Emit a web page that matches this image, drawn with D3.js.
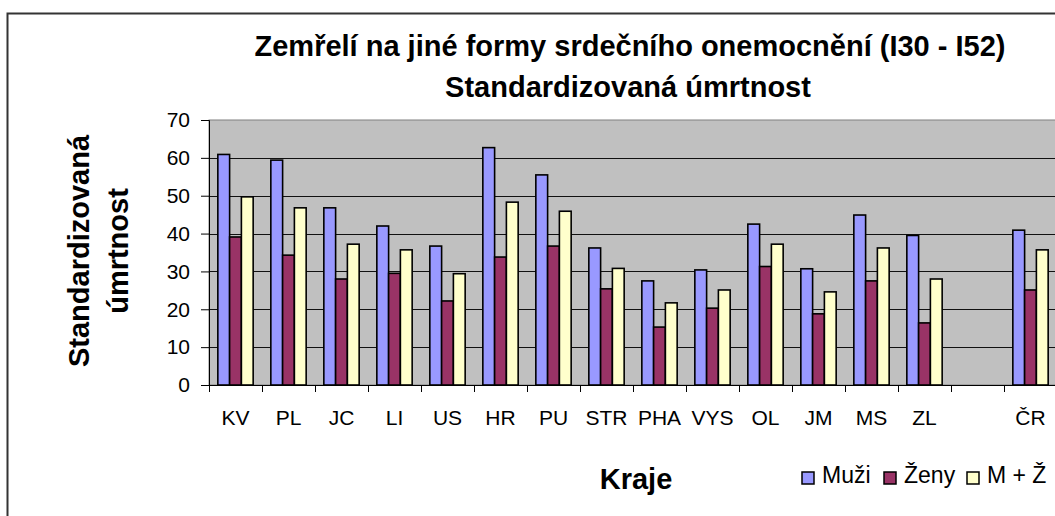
<!DOCTYPE html>
<html>
<head>
<meta charset="utf-8">
<script src="https://cdn.jsdelivr.net/npm/d3@7"></script>
<style>
  body { margin: 0; background: #fff; }
  text { font-family: Arial, "Liberation Sans", sans-serif; }
</style>
</head>
<body>
<div id="chart"></div>
<script>
// Data
const kraje = ['KV', 'PL', 'JC', 'LI', 'US', 'HR', 'PU', 'STR', 'PHA', 'VYS', 'OL', 'JM', 'MS', 'ZL', '', 'ČR']
const muzi  = [60.9, 59.4, 46.8, 42.0, 36.7, 62.7, 55.5, 36.2, 27.5, 30.4, 42.5, 30.7, 44.9, 39.5, null, 40.9]
const zeny  = [39.1, 34.3, 28.0, 29.5, 22.2, 33.8, 36.7, 25.4, 15.3, 20.3, 31.3, 18.8, 27.5, 16.4, null, 25.1]
const mz    = [49.7, 46.8, 37.2, 35.7, 29.4, 48.3, 45.9, 30.8, 21.7, 25.1, 37.2, 24.6, 36.2, 28.0, null, 35.7]
const serie = ['Muži', 'Ženy', 'M + Ž']
const barvy = ['#9999FF', '#993366', '#FFFFCC']
const yTicks = [0, 10, 20, 30, 40, 50, 60, 70]

const rows = kraje.map((k, i) => ({ kraj: k, key: 'c' + i, vals: [muzi[i], zeny[i], mz[i]] }))

// Dimensions
let dims = {
    width: 1055,
    height: 516,
    margin: { top: 120, bottom: 131, left: 209, right: -2 }
}
dims.ctrWidth = dims.width - dims.margin.left - dims.margin.right
dims.ctrHeight = dims.height - dims.margin.top - dims.margin.bottom

const svg = d3.select('#chart')
    .append('svg')
    .attr('width', dims.width)
    .attr('height', dims.height)

// outer frame
svg.append('rect')
    .attr('x', 7.5).attr('y', 13.5)
    .attr('width', 1100).attr('height', 600)
    .attr('fill', '#fff')
    .attr('stroke', '#333')
    .attr('stroke-width', 2)

// Scales
const xScale = d3.scaleBand()
    .domain(rows.map(d => d.key))
    .range([0, dims.ctrWidth])

const inner = d3.scaleBand()
    .domain([0, 1, 2])
    .range([0, xScale.bandwidth()])
    .paddingInner(0)
    .paddingOuter(0.75)

const yScale = d3.scaleLinear()
    .domain([0, 70])
    .range([dims.ctrHeight, 0])

const ctr = svg.append('g')
    .attr('transform', `translate(${dims.margin.left}, ${dims.margin.top})`)

// plot background
ctr.append('rect')
    .attr('width', dims.ctrWidth)
    .attr('height', dims.ctrHeight)
    .attr('fill', '#C0C0C0')
    .attr('stroke', '#808080')

// gridlines
ctr.append('g')
    .selectAll('line')
    .data(yTicks.slice(1, -1))
    .join('line')
    .attr('x1', 0).attr('x2', dims.ctrWidth)
    .attr('y1', d => Math.round(yScale(d)) + 0.5)
    .attr('y2', d => Math.round(yScale(d)) + 0.5)
    .attr('stroke', '#111')
    .attr('stroke-width', 1)

// bars
const groups = ctr.selectAll('.grp')
    .data(rows)
    .join('g')
    .attr('class', 'grp')
    .attr('transform', d => `translate(${xScale(d.key)},0)`)

groups.selectAll('rect')
    .data(d => d.vals.map((v, j) => ({ v, j })).filter(e => e.v != null))
    .join('rect')
    .attr('x', e => inner(e.j))
    .attr('y', e => yScale(e.v))
    .attr('width', inner.bandwidth())
    .attr('height', e => yScale(0) - yScale(e.v))
    .attr('fill', e => barvy[e.j])
    .attr('stroke', '#000')
    .attr('stroke-width', 1.6)

// Axes
const xAxisGroup = ctr.append('g')
    .attr('transform', `translate(0, ${dims.ctrHeight})`)
    .call(d3.axisBottom(xScale).tickSize(0).tickFormat(''))
xAxisGroup.select('.domain').attr('stroke', '#000')
xAxisGroup.selectAll('.tick').remove()
xAxisGroup.selectAll('.tk')
    .data(d3.range(rows.length + 1))
    .join('line')
    .attr('x1', i => Math.round(i * xScale.step()) + 0.5)
    .attr('x2', i => Math.round(i * xScale.step()) + 0.5)
    .attr('y1', 0).attr('y2', 7)
    .attr('stroke', '#000')
xAxisGroup.selectAll('.lbl')
    .data(rows)
    .join('text')
    .attr('x', d => xScale(d.key) + xScale.bandwidth() / 2)
    .attr('y', 40)
    .attr('text-anchor', 'middle')
    .attr('font-size', 21)
    .attr('fill', '#000')
    .text(d => d.kraj)

const yAxis = d3.axisLeft(yScale)
    .tickValues(yTicks)
    .tickSize(8)
    .tickPadding(11)
const yAxisGroup = ctr.append('g').call(yAxis)
yAxisGroup.select('.domain').attr('stroke', '#000')
yAxisGroup.selectAll('.tick line').attr('stroke', '#000')
yAxisGroup.selectAll('.tick text')
    .attr('font-size', 21)
    .attr('font-family', 'Arial, "Liberation Sans", sans-serif')
    .attr('fill', '#000')

// Titles
const title = svg.append('text')
    .attr('text-anchor', 'middle')
    .attr('font-size', 29)
    .attr('font-weight', 'bold')
title.append('tspan').attr('x', 630).attr('y', 56).text('Zemřelí na jiné formy srdečního onemocnění (I30 - I52)')
title.append('tspan').attr('x', 628).attr('y', 97).text('Standardizovaná úmrtnost')

const yTitle = svg.append('text')
    .attr('transform', 'translate(0, 251) rotate(-90)')
    .attr('text-anchor', 'middle')
    .attr('font-size', 29)
    .attr('font-weight', 'bold')
yTitle.append('tspan').attr('x', 0).attr('y', 89).text('Standardizovaná')
yTitle.append('tspan').attr('x', 0).attr('y', 128).text('úmrtnost')

svg.append('text')
    .attr('x', 636)
    .attr('y', 489)
    .attr('text-anchor', 'middle')
    .attr('font-size', 29)
    .attr('font-weight', 'bold')
    .text('Kraje')

// Legend
const legendX = [802, 884, 967]
const legend = svg.append('g')
    .selectAll('g')
    .data(serie)
    .join('g')
    .attr('transform', (d, i) => `translate(${legendX[i]}, 472)`)
legend.append('rect')
    .attr('width', 12).attr('height', 12)
    .attr('fill', (d, i) => barvy[i])
    .attr('stroke', '#000')
    .attr('stroke-width', 1.5)
legend.append('text')
    .attr('x', 20)
    .attr('y', 11)
    .attr('font-size', 23)
    .text(d => d)
</script>
</body>
</html>
